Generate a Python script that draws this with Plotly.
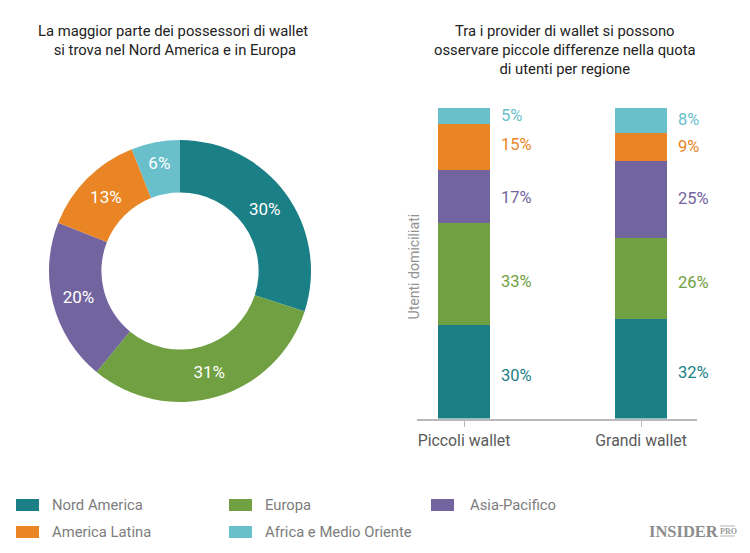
import plotly.graph_objects as go

regioni = ["Nord America", "Europa", "Asia-Pacifico", "America Latina", "Africa e Medio Oriente"]
colori = ["#1b7f86", "#70a041", "#72649e", "#e98525", "#69c0cb"]
quota_totale = [30, 31, 20, 13, 6]
gruppi = ["Piccoli wallet", "Grandi wallet"]
piccoli = [30, 33, 17, 15, 5]
grandi = [32, 26, 25, 9, 8]

# la pagina ha 8px di margine sul body
W = 742
H = 545


def px_x(v):
    return (v - 8) / W


def px_y(v):
    return 1 - (v - 8) / H


fig = go.Figure()

# ciambella a sinistra
fig.add_trace(go.Pie(
    labels=regioni,
    values=quota_totale,
    text=[str(v) + "%" for v in quota_totale],
    textinfo="text",
    textposition="inside",
    insidetextorientation="horizontal",
    textfont=dict(family="Roboto", size=17, color="white"),
    marker=dict(colors=colori, line=dict(width=0)),
    hole=0.6,
    sort=False,
    direction="clockwise",
    rotation=0,
    showlegend=False,
    domain=dict(x=[px_x(49), px_x(311)], y=[px_y(402), px_y(140)]),
))

# barre impilate a destra
for i, regione in enumerate(regioni):
    fig.add_trace(go.Bar(
        x=[0, 1],
        y=[piccoli[i], grandi[i]],
        name=regione,
        width=0.294,
        marker=dict(color=colori[i], line=dict(width=0)),
        showlegend=False,
        xaxis="x",
        yaxis="y",
    ))

fig.update_layout(
    width=W,
    height=H,
    margin=dict(l=0, r=0, t=0, b=0),
    paper_bgcolor="white",
    plot_bgcolor="white",
    barmode="stack",
    font=dict(family="Roboto"),
    xaxis=dict(
        domain=[px_x(417), px_x(697)],
        range=[-0.266, 1.316],
        tickmode="array",
        tickvals=[0, 1],
        ticktext=gruppi,
        ticks="outside",
        ticklen=7,
        tickcolor="#b8b8bc",
        showline=True,
        linecolor="#b8b8bc",
        linewidth=1.5,
        showgrid=False,
        zeroline=False,
        tickfont=dict(family="Roboto", size=15.8, color="#5a5a5a"),
    ),
    yaxis=dict(
        domain=[px_y(418.5), px_y(108)],
        range=[0, 100],
        visible=False,
    ),
)

# etichette accanto alle barre
shift_piccoli = [-4, -7, -1, 2, 0]
shift_grandi = [-4, -4, 1, 0, 1]
for pos, valori, spost in [(0, piccoli, shift_piccoli), (1, grandi, shift_grandi)]:
    base = 0
    for i, v in enumerate(valori):
        fig.add_annotation(
            x=pos, y=base + v / 2, xref="x", yref="y",
            text=str(v) + "%", showarrow=False,
            xanchor="left", xshift=35, yshift=spost[i],
            font=dict(family="Roboto", size=16.5, color=colori[i]),
        )
        base += v

titoli = [
    (173, 41, "La maggior parte dei possessori di wallet<br> si trova nel Nord America e in Europa"),
    (565, 50, "Tra i provider di wallet si possono<br>osservare piccole differenze nella quota<br>di utenti per regione"),
]
for x, y, testo in titoli:
    fig.add_annotation(
        x=px_x(x), y=px_y(y), xref="paper", yref="paper",
        text=testo, showarrow=False, align="center",
        xanchor="center", yanchor="middle",
        font=dict(family="Roboto", size=14.8, color="#222222"),
    )

fig.add_annotation(
    x=px_x(413.5), y=px_y(266), xref="paper", yref="paper",
    text="Utenti domiciliati", showarrow=False, textangle=-90,
    xanchor="center", yanchor="middle",
    font=dict(family="Roboto", size=14.1, color="#929292"),
)

# legenda fatta a mano, tre colonne su due righe
posti = [(16, 50, 505), (229, 263, 505), (431, 468, 505), (16, 50, 532), (229, 263, 532)]
for i, regione in enumerate(regioni):
    x, x_testo, y = posti[i]
    fig.add_shape(
        type="rect", xref="paper", yref="paper",
        x0=px_x(x), x1=px_x(x + 23), y0=px_y(y + 6), y1=px_y(y - 6),
        fillcolor=colori[i], line=dict(width=0),
    )
    fig.add_annotation(
        x=px_x(x_testo), y=px_y(y), xref="paper", yref="paper",
        text=regione, showarrow=False, xanchor="left", yanchor="middle",
        font=dict(family="Roboto", size=14.8, color="#7d7d7d"),
    )

# marchio in basso a destra
fig.add_annotation(
    x=px_x(721), y=px_y(531.5), xref="paper", yref="paper",
    text="<b>INSIDER</b>", showarrow=False, xanchor="right", yanchor="middle",
    font=dict(family="Liberation Serif", size=16.5, color="#8c8c8c"),
)
fig.add_annotation(
    x=px_x(718), y=px_y(531), xref="paper", yref="paper",
    text="<b>PRO</b>", showarrow=False, xanchor="left", yanchor="middle",
    font=dict(family="Liberation Sans Narrow", size=8, color="#9a9a9a"),
)
for y_riga in [526, 536]:
    fig.add_shape(
        type="line", xref="paper", yref="paper",
        x0=px_x(720), x1=px_x(735), y0=px_y(y_riga), y1=px_y(y_riga),
        line=dict(color="#b5b5b5", width=1),
    )

fig.write_html("out.html")
